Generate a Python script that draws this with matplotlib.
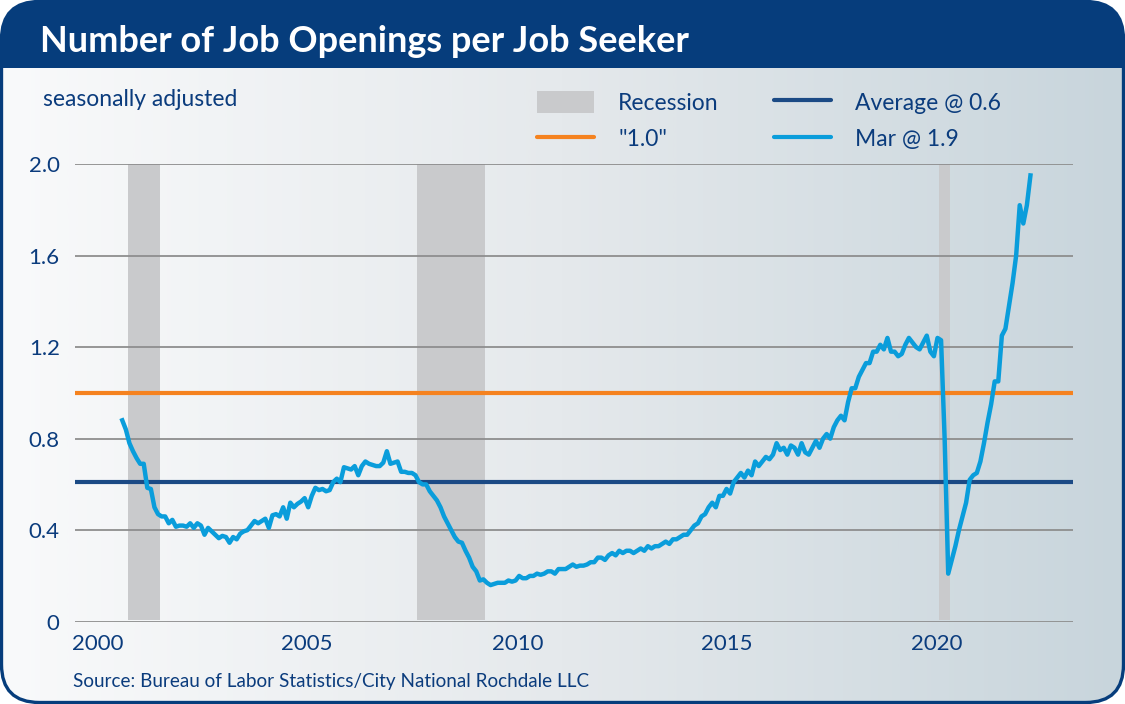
import matplotlib.pyplot as plt
import numpy as np
from matplotlib.colors import LinearSegmentedColormap
from matplotlib.lines import Line2D
from matplotlib.patches import FancyBboxPatch, Patch, Rectangle

plt.rcParams['font.family'] = ['Lato', 'DejaVu Sans']

NAVY = '#063d7c'
TEXT = '#0b3c7d'

# job openings per unemployed person, monthly, Jan 2001 .. Mar 2022
ratio = [
    0.88, 0.84, 0.78, 0.745, 0.715, 0.69, 0.69, 0.585, 0.58, 0.50, 0.47, 0.46,   # 2001
    0.46, 0.43, 0.445, 0.415, 0.42, 0.42, 0.415, 0.43, 0.41, 0.43, 0.42, 0.38,   # 2002
    0.41, 0.395, 0.38, 0.365, 0.375, 0.37, 0.345, 0.37, 0.36, 0.385, 0.395, 0.40,  # 2003
    0.42, 0.44, 0.43, 0.44, 0.45, 0.41, 0.465, 0.47, 0.46, 0.50, 0.45, 0.52,     # 2004
    0.50, 0.515, 0.525, 0.54, 0.50, 0.55, 0.585, 0.575, 0.58, 0.57, 0.575, 0.61,  # 2005
    0.625, 0.61, 0.675, 0.67, 0.665, 0.68, 0.64, 0.68, 0.70, 0.69, 0.685, 0.68,  # 2006
    0.68, 0.695, 0.745, 0.69, 0.695, 0.70, 0.655, 0.655, 0.65, 0.65, 0.64, 0.61,  # 2007
    0.60, 0.60, 0.57, 0.55, 0.53, 0.50, 0.46, 0.43, 0.40, 0.37, 0.35, 0.345,     # 2008
    0.31, 0.28, 0.24, 0.22, 0.18, 0.185, 0.17, 0.16, 0.165, 0.17, 0.17, 0.17,    # 2009
    0.18, 0.175, 0.18, 0.20, 0.19, 0.19, 0.20, 0.20, 0.21, 0.205, 0.21, 0.22,    # 2010
    0.22, 0.21, 0.23, 0.23, 0.23, 0.24, 0.25, 0.24, 0.245, 0.245, 0.25, 0.26,    # 2011
    0.26, 0.28, 0.28, 0.27, 0.29, 0.30, 0.29, 0.31, 0.30, 0.31, 0.31, 0.30,      # 2012
    0.31, 0.32, 0.31, 0.33, 0.32, 0.33, 0.33, 0.34, 0.35, 0.34, 0.36, 0.36,      # 2013
    0.37, 0.38, 0.38, 0.40, 0.42, 0.43, 0.46, 0.47, 0.50, 0.52, 0.50, 0.55,      # 2014
    0.55, 0.58, 0.56, 0.61, 0.63, 0.65, 0.63, 0.66, 0.64, 0.70, 0.68, 0.70,      # 2015
    0.72, 0.71, 0.73, 0.78, 0.75, 0.76, 0.73, 0.77, 0.76, 0.73, 0.78, 0.74,      # 2016
    0.73, 0.76, 0.79, 0.76, 0.80, 0.82, 0.80, 0.85, 0.88, 0.90, 0.88, 0.96,      # 2017
    1.02, 1.02, 1.07, 1.10, 1.13, 1.13, 1.18, 1.18, 1.21, 1.19, 1.24, 1.18,      # 2018
    1.18, 1.16, 1.17, 1.21, 1.24, 1.22, 1.20, 1.19, 1.22, 1.25, 1.18, 1.16,      # 2019
    1.24, 1.23, 0.80, 0.21, 0.27, 0.33, 0.40, 0.46, 0.52, 0.62, 0.64, 0.65,      # 2020
    0.70, 0.78, 0.87, 0.95, 1.05, 1.05, 1.25, 1.28, 1.38, 1.48, 1.60, 1.82,      # 2021
    1.74, 1.82, 1.95,                                                            # 2022
]
start_year = 2001

recession_start = [2001.17, 2007.92, 2020.08]
recession_end = [2001.92, 2009.50, 2020.33]

average_level = 0.61
one_level = 1.0

year_labels = ['2000', '2005', '2010', '2015', '2020']
year_label_pos = [2000.47, 2005.35, 2010.25, 2015.13, 2020.02]
y_ticks = [0, 0.4, 0.8, 1.2, 1.6, 2.0]
y_labels = ['0', '0.4', '0.8', '1.2', '1.6', '2.0']

dates = start_year + (np.arange(len(ratio)) + 0.5) / 12

W, H = 1125, 704
fig = plt.figure(figsize=(W / 100, H / 100), dpi=100)
fig.patch.set_facecolor('white')

# frame: gradient panel, title bar, rounded border (pixel coordinates)
bg = fig.add_axes([0, 0, 1, 1])
bg.set_xlim(0, W)
bg.set_ylim(H, 0)
bg.axis('off')

frame = FancyBboxPatch((1.5, 1.5), W - 3, H - 3,
                       boxstyle='round,pad=0,rounding_size=38',
                       facecolor='none', edgecolor='none')
bg.add_patch(frame)

grad_cmap = LinearSegmentedColormap.from_list(
    'panel', [(0, '#f9fafb'), (0.5, '#e5e9ec'), (1, '#c8d5dc')])
grad = np.linspace(0, 1, 512).reshape(1, -1)
img = bg.imshow(grad, cmap=grad_cmap, extent=(0, W, H, 0), aspect='auto', zorder=0)
img.set_clip_path(frame)

title_bar = Rectangle((0, 0), W, 68, facecolor=NAVY, edgecolor='none', zorder=1)
bg.add_patch(title_bar)
title_bar.set_clip_path(frame)

border = FancyBboxPatch((1.5, 1.5), W - 3, H - 3,
                        boxstyle='round,pad=0,rounding_size=38',
                        facecolor='none', edgecolor=NAVY, linewidth=2.4, zorder=2)
bg.add_patch(border)

# main chart
ax = fig.add_axes([75 / W, (H - 621.7) / H, 998 / W, (621.7 - 164) / H])
ax.set_facecolor('none')
ax.set_xlim(1999.94, 2023.2)
ax.set_ylim(0, 2.0)

for s, e in zip(recession_start, recession_end):
    ax.axvspan(s, e, ymin=0.004, ymax=1.0, color='#c9cacc', lw=0, zorder=1)

for y in y_ticks:
    ax.axhline(y, color='#8e8e8e', lw=1.3, zorder=2)

ax.axhline(one_level, color='#f5821f', lw=3, solid_capstyle='round', zorder=3)
ax.axhline(average_level, color='#1b4a85', lw=3, solid_capstyle='round', zorder=3)
ax.plot(dates, ratio, color='#0a9ddb', lw=3.2, solid_joinstyle='round', zorder=4)

for side in ax.spines.values():
    side.set_visible(False)
ax.set_yticks(y_ticks, y_labels)
ax.set_xticks(year_label_pos, year_labels)
ax.tick_params(axis='both', length=0, colors=TEXT, labelsize=16)
ax.tick_params(axis='y', pad=11)
ax.tick_params(axis='x', pad=9)

handles = [Patch(facecolor='#c9cacc', edgecolor='none'),
           Line2D([], [], color='#f5821f', lw=3, solid_capstyle='round'),
           Line2D([], [], color='#1b4a85', lw=3, solid_capstyle='round'),
           Line2D([], [], color='#0a9ddb', lw=3, solid_capstyle='round')]
labels = ['Recession', '"1.0"', 'Average @ 0.6', 'Mar @ 1.9']
leg = fig.legend(handles, labels, loc='upper left', ncol=2,
                 bbox_to_anchor=(537 / W, 1 - 91 / H), frameon=False,
                 fontsize=16.5, handlelength=2.5, handleheight=1.1,
                 handletextpad=1.05, columnspacing=2.4, labelspacing=0.6,
                 borderpad=0, borderaxespad=0)
for t in leg.get_texts():
    t.set_color(TEXT)

fig.text(40 / W, 1 - 41 / H, 'Number of Job Openings per Job Seeker',
         color='white', fontsize=26, fontweight='bold', va='center', ha='left')
fig.text(43 / W, 1 - 100 / H, 'seasonally adjusted', color=TEXT,
         fontsize=16.5, va='center', ha='left')
fig.text(73 / W, 1 - 681 / H,
         'Source: Bureau of Labor Statistics/City National Rochdale LLC',
         color=TEXT, fontsize=13.6, va='center', ha='left')

fig.savefig('out.png', dpi=100)
